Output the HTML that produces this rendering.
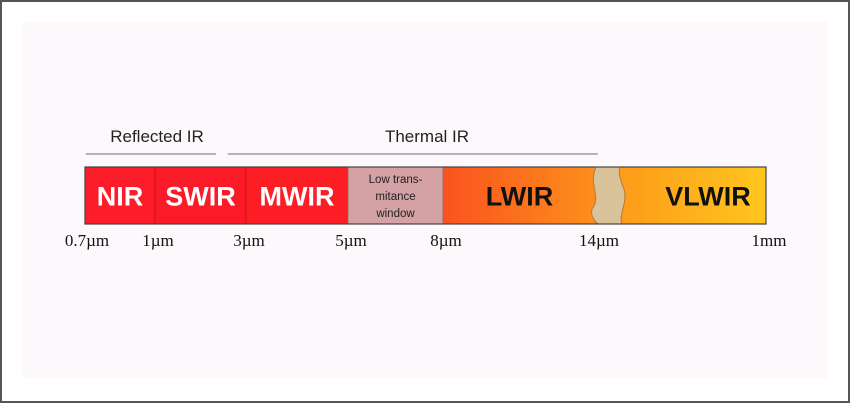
<!DOCTYPE html>
<html><head><meta charset="utf-8"><style>
html,body{margin:0;padding:0;background:#fff;}
#wrap{position:relative;width:850px;height:403px;overflow:hidden;background:#fff;}
svg{position:absolute;left:0;top:0;}
</style></head><body>
<div id="wrap">
<svg id="chart" width="850" height="403">
<defs>
<linearGradient id="lw" x1="0" x2="1"><stop offset="0" stop-color="#f9531e"/><stop offset="1" stop-color="#fd8f1c"/></linearGradient>
<linearGradient id="vl" x1="0" x2="1"><stop offset="0" stop-color="#fd9418"/><stop offset="1" stop-color="#ffc61e"/></linearGradient>
</defs>
<rect x="1" y="1" width="848" height="401" fill="#fff" stroke="#555" stroke-width="2"/>
<rect x="22" y="22" width="806" height="356" fill="#fcf8fb"/>
</svg>
</div>
<script>
// band boundaries in tick index units
const tickLabels = ["0.7\u00b5m","1\u00b5m","3\u00b5m","5\u00b5m","8\u00b5m","14\u00b5m","1mm"];
const tickPositions = [0,1,2,3,4,5,6];
const bandNames = ["NIR","SWIR","MWIR","Low trans-|mitance|window","LWIR","VLWIR"];
const bandStart = [0,1,2,3,4,5];
const bandEnd = [1,2,3,4,5,6];
const groupNames = ["Reflected IR","Thermal IR"];
const groupStart = [0.01,1.8];
const groupEnd = [1.67,5.01];

const svg=document.getElementById('chart');
const NS='http://www.w3.org/2000/svg';
const SANS='font-family:"Liberation Sans",sans-serif';
const SERIF='font-family:"Liberation Serif",serif';
// piecewise axis: pixel location of each tick index
const axisPx=[85,155,246,348,443,596,766];
function xs(v){const i=Math.min(Math.floor(v),axisPx.length-2);const f=v-i;return axisPx[i]+f*(axisPx[i+1]-axisPx[i]);}
const y0=167,y1=224;
const fills=["#fd1c29","#fb1b28","#fc1d25","#d4a1a4","url(#lw)","url(#vl)"];
const tcol=["#fff","#fff","#fff","#222","#111","#111"];
const tsize=[27,27,27,11.5,27,27];
function mk(t,a){const e=document.createElementNS(NS,t);for(const k in a)e.setAttribute(k,a[k]);svg.appendChild(e);return e;}
bandNames.forEach((n,i)=>{
  const xa=xs(bandStart[i]),xb=xs(bandEnd[i]);
  const r=mk('rect',{x:xa,y:y0,width:xb-xa,height:y1-y0,fill:fills[i],stroke:i<3?'#c0101a':'#9a6a60','stroke-width':0.7});
  
  
  const lines=n.split('|');
  let cx=(xa+xb)/2; if(i===5) cx=xb-58;
  lines.forEach((l,j)=>{
    const yy=lines.length>1?y0+16+j*17:(y0+y1)/2+10;
    const t=mk('text',{x:cx,y:yy,'text-anchor':'middle','font-size':tsize[i],'font-weight':lines.length>1?'normal':'bold',fill:tcol[i],style:SANS});
    t.textContent=l;
    
    
  });
});
// wavy break
const bx=xs(5);
const w=mk('path',{d:`M${bx} ${y0} C${bx-8} ${y0+18} ${bx+6} ${y0+30} ${bx-4} ${y0+42} C${bx-6} ${y0+50} ${bx} ${y0+55} ${bx+2} ${y1} L${bx+26} ${y1} C${bx+22} ${y0+48} ${bx+32} ${y0+36} ${bx+28} ${y0+22} C${bx+24} ${y0+12} ${bx+22} ${y0+5} ${bx+24} ${y0} Z`,fill:'#d9c39a',stroke:'#b87a3a','stroke-width':1});


const ob=mk('rect',{x:xs(0),y:y0,width:xs(6)-xs(0),height:y1-y0,fill:'none',stroke:'#444','stroke-width':1.2});


tickLabels.forEach((l,i)=>{
  const t=mk('text',{x:xs(tickPositions[i])+(i===0?2:3),y:246,'text-anchor':'middle','font-size':17,fill:'#111',style:SERIF});
  t.textContent=l;
  
  
});
groupNames.forEach((g,i)=>{
  const xa=xs(groupStart[i]),xb=xs(groupEnd[i]);
  const ln=mk('line',{x1:xa,x2:xb,y1:154,y2:154,stroke:'#b5b5b5','stroke-width':2});
  
  
  const t=mk('text',{x:i===0?157:427,y:142,'text-anchor':'middle','font-size':17,fill:'#222',style:SANS});
  t.textContent=g;
  
  
});
</script>
</body></html>
